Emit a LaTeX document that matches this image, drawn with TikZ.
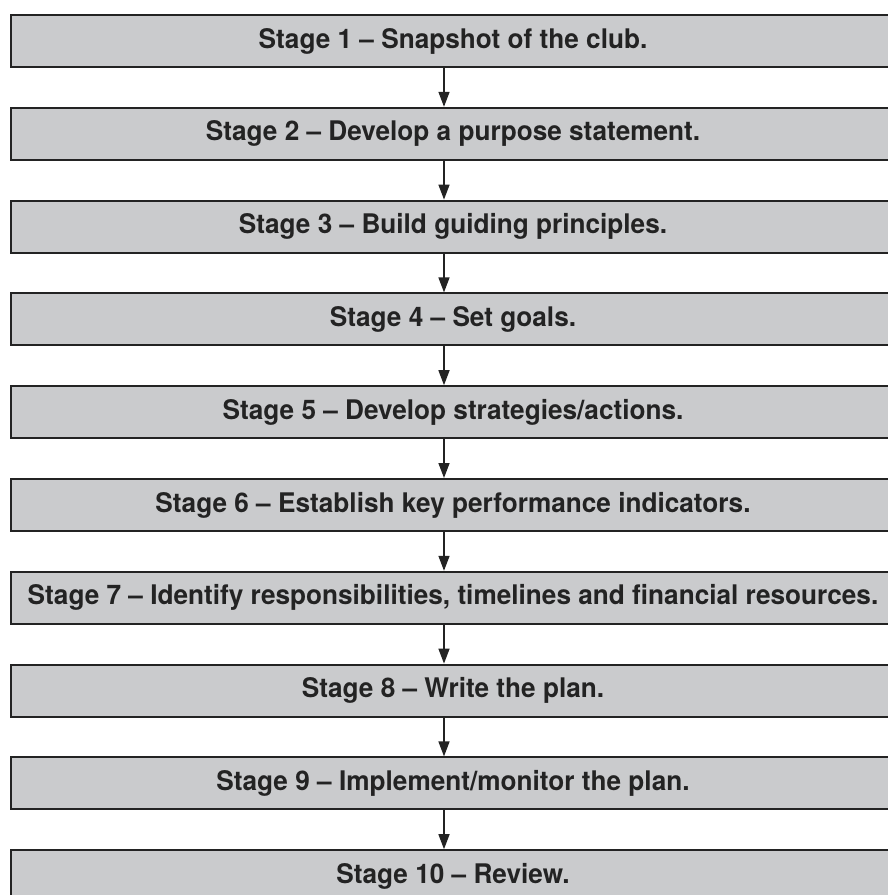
\documentclass[tikz,border=0pt]{standalone}
\usepackage{fontspec}
\setmainfont[FakeStretch=0.97]{TeX Gyre Heros}
\usetikzlibrary{arrows.meta}
\definecolor{boxgray}{RGB}{202,203,205}
\definecolor{edgegray}{RGB}{35,35,35}

\begin{document}
\begin{tikzpicture}[x=1pt,y=1pt,
	stage/.style={draw=edgegray, line width=2pt, fill=boxgray, text=edgegray,
		minimum width=884pt, minimum height=52pt, inner sep=0pt, anchor=north west,
		font=\fontsize{27}{32}\selectfont\bfseries},
	flow/.style={-{Triangle[length=15pt,width=11pt]}, line width=1.5pt, draw=edgegray}]
				\useasboundingbox (0,0) rectangle (887,-895);
				\node[stage] (s1) at (10,-14) {Stage 1 -- Snapshot of the club.};
				\node[stage] (s2) at (10,-106.8) {Stage 2 -- Develop a purpose statement.};
				\node[stage] (s3) at (10,-199.6) {Stage 3 -- Build guiding principles.};
				\node[stage] (s4) at (10,-292.4) {Stage 4 -- Set goals.};
				\node[stage] (s5) at (10,-385.2) {Stage 5 -- Develop strategies/actions.};
				\node[stage] (s6) at (10,-478) {Stage 6 -- Establish key performance indicators.};
				\node[stage] (s7) at (10,-570.8) {Stage 7 -- Identify responsibilities, timelines and financial resources.};
				\node[stage] (s8) at (10,-663.6) {Stage 8 -- Write the plan.};
				\node[stage] (s9) at (10,-756.4) {Stage 9 -- Implement/monitor the plan.};
				\node[stage] (s10) at (10,-849.2) {Stage 10 -- Review.};
				% arrows sit a little left of the box centre
				\draw[flow] ([xshift=-9pt]s1.south) -- ([xshift=-9pt]s2.north);
				\draw[flow] ([xshift=-9pt]s2.south) -- ([xshift=-9pt]s3.north);
				\draw[flow] ([xshift=-9pt]s3.south) -- ([xshift=-9pt]s4.north);
				\draw[flow] ([xshift=-9pt]s4.south) -- ([xshift=-9pt]s5.north);
				\draw[flow] ([xshift=-9pt]s5.south) -- ([xshift=-9pt]s6.north);
				\draw[flow] ([xshift=-9pt]s6.south) -- ([xshift=-9pt]s7.north);
				\draw[flow] ([xshift=-9pt]s7.south) -- ([xshift=-9pt]s8.north);
				\draw[flow] ([xshift=-9pt]s8.south) -- ([xshift=-9pt]s9.north);
				\draw[flow] ([xshift=-9pt]s9.south) -- ([xshift=-9pt]s10.north);
			\end{tikzpicture}
\end{document}
